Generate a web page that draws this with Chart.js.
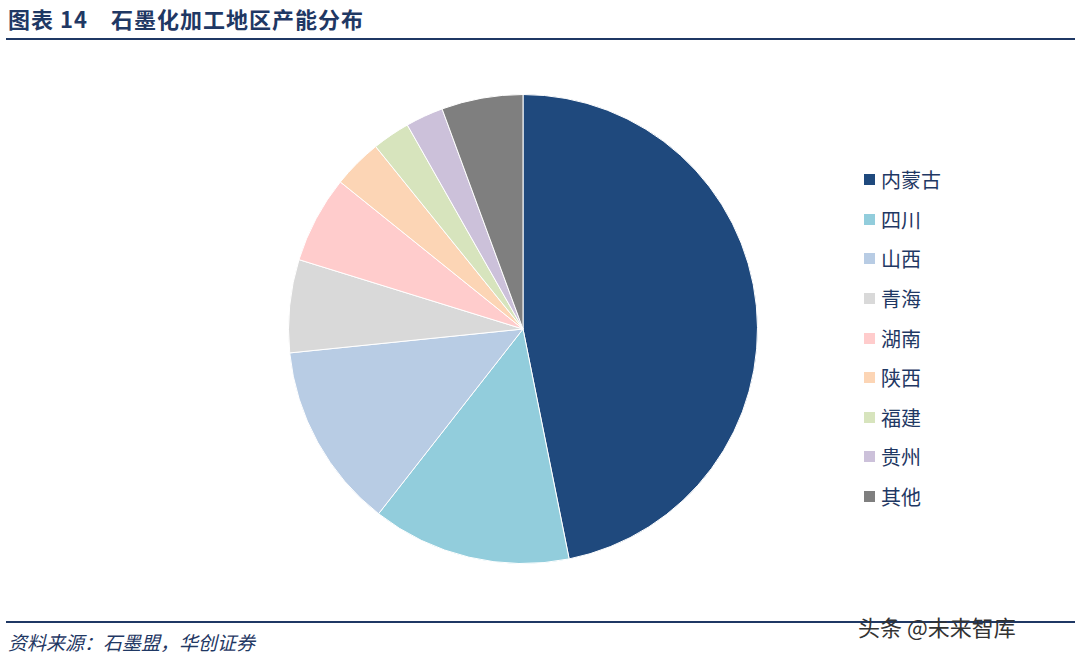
<!DOCTYPE html>
<html><head><meta charset="utf-8">
<script src="https://cdn.jsdelivr.net/npm/chart.js@4"></script>
<style>
body{margin:0;width:1075px;height:658px;background:#fff;position:relative;overflow:hidden;font-family:"Noto Sans CJK SC",sans-serif}
#title{position:absolute;left:8px;top:2px;font-size:22px;font-weight:bold;color:#1F3864;font-family:"Noto Sans CJK SC","Liberation Serif",serif;letter-spacing:1px}
.line{position:absolute;left:6px;width:1069px;height:2px;background:#1F3864}
#src{position:absolute;left:8px;top:628px;font-size:19px;font-style:italic;color:#1F3864}
#wm{position:absolute;left:858px;top:610px;font-size:22px;color:#333}
#box{position:absolute;left:288px;top:94px;width:470px;height:470px}
#legend{position:absolute;left:864px;top:160px;font-size:20px;color:#1F3864}
.it{height:39.6px;display:flex;align-items:center}
.sw{width:11px;height:11px;margin-right:6px}
</style></head><body>
<div id="title">图表 14　石墨化加工地区产能分布</div>
<div class="line" style="top:38px"></div>
<div class="line" style="top:621px"></div>
<div id="src">资料来源：石墨盟，华创证券</div>
<div id="wm">头条 @未来智库</div>
<div id="box"><canvas id="c"></canvas></div>
<div id="legend"></div>
<script>
const categories=["内蒙古","四川","山西","青海","湖南","陕西","福建","贵州","其他"];
const values=[46.8,13.7,12.8,6.4,6.0,3.4,2.6,2.6,5.6];
const colors=["#1F497D","#92CDDC","#B8CCE4","#D9D9D9","#FFCCCC","#FCD5B5","#D7E4BD","#CCC1DA","#7F7F7F"];
new Chart(document.getElementById('c'),{type:'pie',
data:{labels:categories,datasets:[{data:values,backgroundColor:colors,borderColor:'#fff',borderWidth:1}]},
options:{responsive:true,maintainAspectRatio:false,animation:false,layout:{padding:0},
plugins:{legend:{display:false},tooltip:{enabled:false}}}});
const lg=document.getElementById('legend');
categories.forEach((c,i)=>{lg.innerHTML+=`<div class="it"><div class="sw" style="background:${colors[i]}"></div>${c}</div>`;});
</script>
</body></html>
